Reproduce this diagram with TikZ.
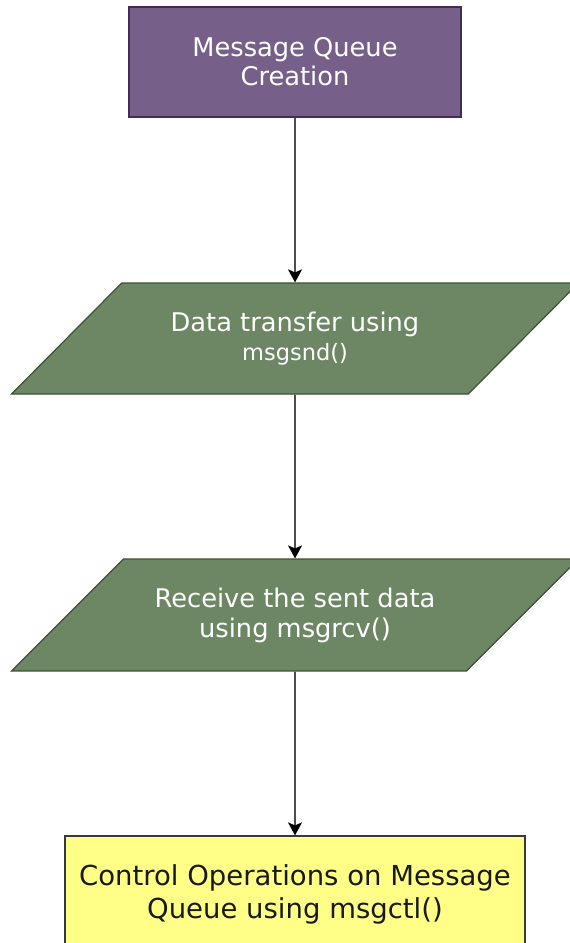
\documentclass[tikz,border=0pt]{standalone}
\usepackage{fontspec}
\setmainfont{DejaVu Sans}
\usepackage{xcolor}
\definecolor{QueuePurple}{HTML}{76608A}
\definecolor{QueueEdge}{HTML}{432D57}
\definecolor{DataGreen}{HTML}{6D8764}
\definecolor{DataEdge}{HTML}{3A5431}
\definecolor{NoteYellow}{HTML}{FFFF88}
\definecolor{NoteEdge}{HTML}{36393D}
\definecolor{FlowInk}{HTML}{4D4D4D}
\usetikzlibrary{shapes.geometric, arrows.meta, positioning}

\begin{document}
\begin{tikzpicture}[x=1pt, y=-1pt, >=Stealth,
  create/.style={rectangle, draw=QueueEdge, fill=QueuePurple, text=white, line width=1.2pt,
                 minimum width=332pt, minimum height=110pt, align=center,
                 font=\fontsize{25.7}{29}\selectfont},
  io/.style={trapezium, trapezium left angle=45, trapezium right angle=135,
             trapezium stretches body=true, draw=DataEdge, fill=DataGreen, text=white,
             line width=1.2pt, inner ysep=28.5pt, minimum width=567pt, minimum height=111pt,
             align=center},
  ctl/.style={rectangle, draw=NoteEdge, fill=NoteYellow, text=black!90, line width=1.2pt,
              minimum width=460pt, minimum height=116pt, align=center,
              font=\fontsize{27.5}{33}\selectfont},
  arr/.style={line width=1.6pt, color=FlowInk,
              arrows={-Stealth[length=13pt, width=14pt, inset=3pt, black]}}
]
\useasboundingbox[fill=white] (0,0) rectangle (570,943);

%% ---- Flow steps ----
\node[create] (create) at (295, 62) {Message Queue\\Creation};
\node[io, font=\fontsize{25.7}{29}\selectfont] (send) at (295, 338.5)
  {Data transfer using\\{\fontsize{22.5}{29}\selectfont msgsnd()}};
\node[io, font=\fontsize{25.7}{30}\selectfont] (recv) at (295, 615)
  {Receive the sent data\\using msgrcv()};
\node[ctl] (control) at (295, 894) {Control Operations on Message\\Queue using msgctl()};

%% ---- Arrows ----
\draw[arr] (create) -- (send);
\draw[arr] (send)   -- (recv);
\draw[arr] (recv)   -- (control);

\end{tikzpicture}
\end{document}
